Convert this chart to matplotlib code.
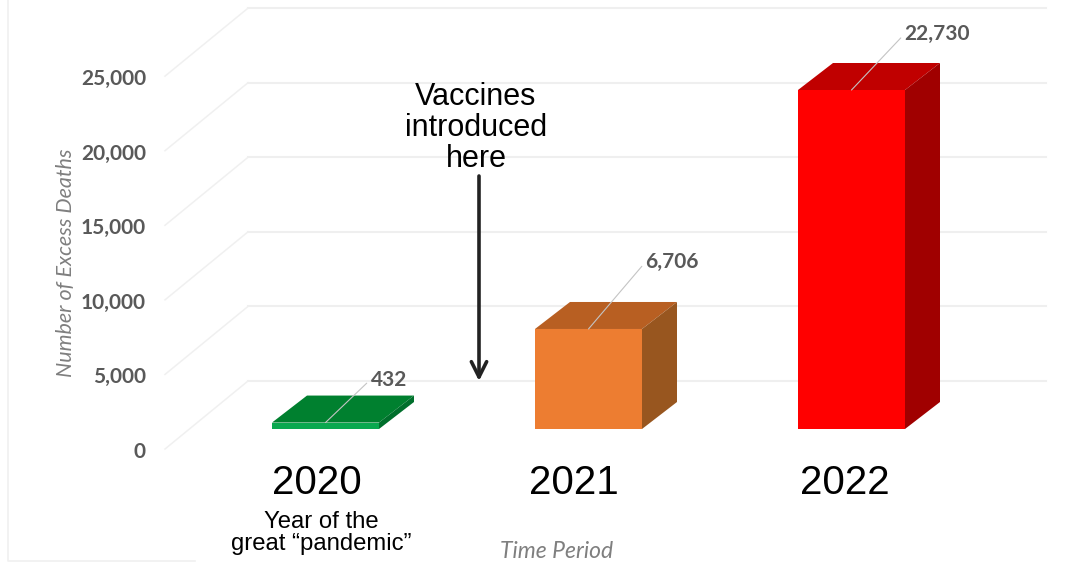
import matplotlib
matplotlib.use("Agg")
import matplotlib.pyplot as plt
from matplotlib.patches import Polygon

years = ["2020", "2021", "2022"]
deaths = [432, 6706, 22730]
value_labels = ["432", "6,706", "22,730"]
y_ticks = [0, 5000, 10000, 15000, 20000, 25000]
y_tick_labels = ["0", "5,000", "10,000", "15,000", "20,000", "25,000"]

front_colors = ["#0aa84f", "#ed7d31", "#ff0000"]
top_colors = ["#00802f", "#b85f22", "#c00000"]
side_colors = ["#006f2c", "#98561f", "#a00000"]

W, H = 1078, 563
X0, STEP = 325.5, 263.0   # pixel of the first bar centre, pixels between bars
Y0, PX_PER_UNIT = 429.0, 339.0 / 22730   # pixel of value 0, pixels per death


def dx(px):
    return px / STEP


def dy(px):
    return px / PX_PER_UNIT


fig = plt.figure(figsize=(W / 100, H / 100), dpi=100)
ax = fig.add_axes([0, 0, 1, 1])
ax.set_xlim(-X0 / STEP, (W - X0) / STEP)
ax.set_ylim((Y0 - H) / PX_PER_UNIT, Y0 / PX_PER_UNIT)
ax.axis("off")

# back wall and floor lines
wall_x0, wall_x1 = dx(248 - X0), dx(1046 - X0)
front_x = dx(165 - X0)
wall_shift = dy(48)     # back wall sits above the bar base
side_dy = dy(68)
for t in y_ticks:
    y = t + wall_shift
    ax.plot([wall_x0, wall_x1], [y, y], color="#efefef", lw=1.5, zorder=1)
    ax.plot([front_x, wall_x0], [y - side_dy, y], color="#f0f0f0", lw=1.1, zorder=1)

# tick labels
for t, lab in zip(y_ticks, y_tick_labels):
    ax.text(dx(146 - X0), t - dy(23), lab, ha="right", va="center",
            fontsize=15, fontweight="bold", family="Lato", color="#595959", zorder=5)

# 3d bars
half = dx(53.5)
depth_x, depth_y = dx(35), dy(27)
label_offsets = [(45, 43), (57, 67), (53, 56)]
for i, v in enumerate(deaths):
    left, right = i - half, i + half
    ax.add_patch(Polygon([(left, v), (right, v), (right + depth_x, v + depth_y),
                          (left + depth_x, v + depth_y)], color=top_colors[i], lw=0, zorder=3))
    ax.add_patch(Polygon([(right, 0), (right + depth_x, depth_y), (right + depth_x, v + depth_y),
                          (right, v)], color=side_colors[i], lw=0, zorder=3))
    ax.bar(i, v, width=2 * half, color=front_colors[i], zorder=4)
    off = label_offsets[i]
    ax.annotate(value_labels[i], xy=(i, v), xytext=(off[0] * 0.72, off[1] * 0.72),
                textcoords="offset points", ha="left", va="center",
                fontsize=15, fontweight="bold", family="Lato", color="#595959", zorder=6,
                arrowprops=dict(arrowstyle="-", color="#c4c4c4", lw=0.8, shrinkA=1, shrinkB=0,
                                relpos=(0, 0.5)))

# year labels under the bars
year_x = [317, 573.5, 845]
for x, yr in zip(year_x, years):
    ax.text(dx(x - X0), dy(429 - 483), yr, ha="center", va="center", fontsize=29,
            family="Liberation Sans", color="black", zorder=6)

ax.text(dx(321 - X0), dy(429 - 533), "Year of the\ngreat \u201cpandemic\u201d", ha="center", va="center",
        fontsize=17.2, family="Liberation Sans", color="black", linespacing=0.95, zorder=6)

ax.text(dx(476 - X0), dy(429 - 128), "Vaccines\nintroduced\nhere", ha="center", va="center",
        fontsize=22, family="Liberation Sans", color="black", linespacing=1.05, zorder=6)

ax.annotate("", xy=(dx(479 - X0), dy(429 - 381)), xytext=(dx(479 - X0), dy(429 - 176)),
            arrowprops=dict(arrowstyle="->,head_length=1.1,head_width=0.55", color="#222222",
                            lw=2.6, shrinkA=0, shrinkB=0), zorder=6)

# axis titles
ax.text(dx(66 - X0), dy(429 - 263), "Number of Excess Deaths", rotation=90, ha="center", va="center",
        fontsize=15.5, style="italic", family="Lato", color="#7f7f7f", zorder=6)
ax.text(dx(557 - X0), dy(429 - 552), "Time Period", ha="center", va="center",
        fontsize=16.5, style="italic", family="Lato", color="#7f7f7f", zorder=6)

# faint frame left over from the pasted image
ax.plot([dx(8 - X0), dx(8 - X0), dx(195 - X0)], [dy(429 - 0), dy(429 - 561), dy(429 - 561)],
        color="#f0f0f0", lw=1.2, zorder=1)

fig.savefig("out.png", dpi=100)
